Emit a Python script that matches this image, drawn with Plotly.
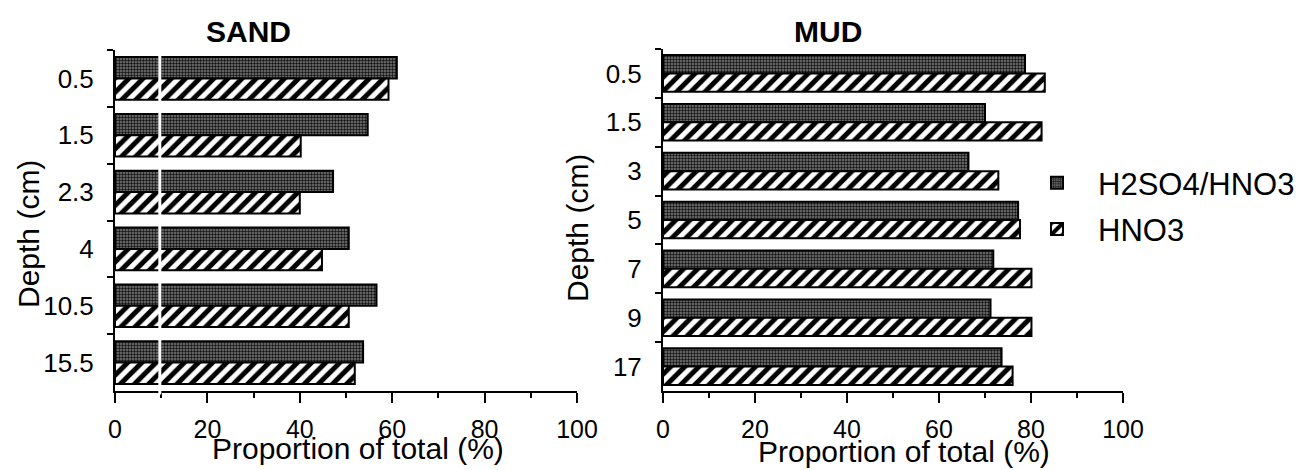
import plotly.graph_objects as go

# ---------------- data ----------------
series_names = ["H2SO4/HNO3", "HNO3"]

sand_depths = ["0.5", "1.5", "2.3", "4", "10.5", "15.5"]
sand_h2so4_hno3 = [61.0, 54.7, 47.2, 50.6, 56.6, 53.7]
sand_hno3 = [59.2, 40.2, 40.0, 44.8, 50.6, 51.9]

mud_depths = ["0.5", "1.5", "3", "5", "7", "9", "17"]
mud_h2so4_hno3 = [78.7, 70.0, 66.4, 77.2, 71.8, 71.2, 73.6]
mud_hno3 = [83.0, 82.3, 72.9, 77.6, 80.1, 80.1, 76.0]

x_ticks = [0, 20, 40, 60, 80, 100]
x_minor_ticks = [10, 30, 50, 70, 90]

panel_titles = ["SAND", "MUD"]
x_title = "Proportion of total (%)"
y_title = "Depth (cm)"

# ---------------- styling ----------------
W, H = 1300, 470
FONT = "Liberation Sans, Arial, Helvetica, sans-serif"


def px(x):
    return x / W


def py(y):
    return (H - y) / H


dark_marker = dict(
    color="#505050",
    line=dict(color="black", width=2),
    pattern=dict(shape=".", fgcolor="#111111", bgcolor="#7a7a7a",
                 size=3, solidity=0.5),
)
hatch_marker = dict(
    color="white",
    line=dict(color="black", width=2),
    pattern=dict(shape="/", fgcolor="black", bgcolor="white",
                 size=10, solidity=0.5),
)

fig = go.Figure()

panels = [
    ("x", "y", sand_depths, sand_h2so4_hno3, sand_hno3, True),
    ("x2", "y2", mud_depths, mud_h2so4_hno3, mud_hno3, False),
]
for xa, ya, cats, v1, v2, show in panels:
    fig.add_trace(go.Bar(
        y=cats, x=v1, orientation="h", name=series_names[0],
        xaxis=xa, yaxis=ya, marker=dark_marker,
        legendgroup="a", showlegend=show, hoverinfo="x+y",
    ))
    fig.add_trace(go.Bar(
        y=cats, x=v2, orientation="h", name=series_names[1],
        xaxis=xa, yaxis=ya, marker=hatch_marker,
        legendgroup="b", showlegend=show, hoverinfo="x+y",
    ))

common_x = dict(
    range=[0, 100], tickmode="array", tickvals=x_ticks,
    ticks="outside", ticklen=10, tickwidth=2, tickcolor="black",
    minor=dict(tickmode="array", tickvals=x_minor_ticks, ticks="outside",
               ticklen=5, tickwidth=2, tickcolor="black", showgrid=False),
    showline=True, linecolor="black", linewidth=2,
    showgrid=False, zeroline=False, automargin=False,
    tickfont=dict(size=25, color="black", family=FONT),
    ticklabelstandoff=5,
)
common_y = dict(
    type="category", autorange="reversed",
    ticks="outside", ticklen=6, tickwidth=2, tickcolor="black",
    tickson="boundaries",
    showline=True, linecolor="black", linewidth=2,
    showgrid=False, zeroline=False, automargin=False,
    tickfont=dict(size=26, color="black", family=FONT),
    ticklabelstandoff=14,
)

fig.update_layout(
    template="none",
    width=W, height=H,
    margin=dict(l=0, r=0, t=0, b=0),
    paper_bgcolor="white", plot_bgcolor="white",
    font=dict(family=FONT, color="black"),
    barmode="group", bargap=0.25, bargroupgap=0,
    xaxis=dict(domain=[px(115), px(577)], anchor="y", **common_x),
    yaxis=dict(domain=[py(391), py(50)], anchor="x",
               categoryorder="array", categoryarray=sand_depths, **common_y),
    xaxis2=dict(domain=[px(663), px(1123)], anchor="y2", **common_x),
    yaxis2=dict(domain=[py(391), py(49)], anchor="x2",
                categoryorder="array", categoryarray=mud_depths, **common_y),
    legend=dict(
        x=px(1016), y=py(156), xanchor="left", yanchor="top",
        font=dict(size=31, color="black", family=FONT),
        bgcolor="rgba(0,0,0,0)", tracegroupgap=3, itemwidth=72,
    ),
)

annos = [
    dict(text="<b>" + panel_titles[0] + "</b>", x=px(248), y=py(31),
         yanchor="middle", font=dict(size=30)),
    dict(text="<b>" + panel_titles[1] + "</b>", x=px(828), y=py(31),
         yanchor="middle", font=dict(size=30)),
    dict(text=x_title, x=px(358), y=py(467), yanchor="bottom", font=dict(size=30)),
    dict(text=x_title, x=px(904), y=py(470), yanchor="bottom", font=dict(size=30)),
    dict(text=y_title, x=px(28), y=py(234), yanchor="middle", textangle=-90,
         font=dict(size=30)),
    dict(text=y_title, x=px(577), y=py(228), yanchor="middle", textangle=-90,
         font=dict(size=30)),
]
for a in annos:
    fig.add_annotation(xref="paper", yref="paper", showarrow=False,
                       xanchor="center", **a)

# white scan streak across the left panel
fig.add_shape(type="line", xref="x", yref="y domain", x0=9.7, x1=9.7,
              y0=-0.01, y1=1, line=dict(color="white", width=3), layer="above")

fig.write_html("out.html")
